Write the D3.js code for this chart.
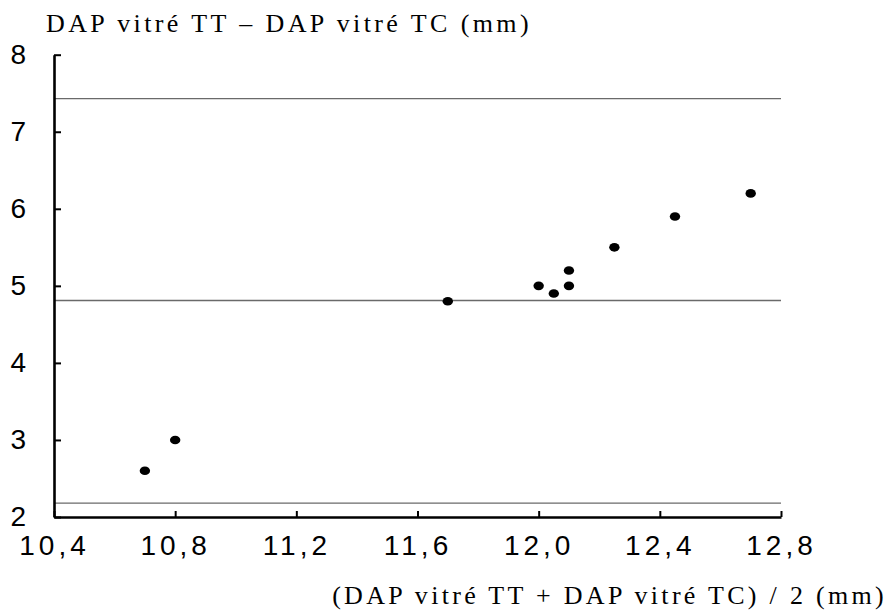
<!DOCTYPE html>
<html>
<head>
<meta charset="utf-8">
<script src="https://cdn.jsdelivr.net/npm/d3@7"></script>
<style>
    body { margin: 0; background: #fff; }
    svg { display: block; }
</style>
</head>
<body>
<div id="chart"></div>
<script>
// Bland-Altman style data
const meanValues = [10.7, 10.8, 11.7, 12.0, 12.05, 12.1, 12.1, 12.25, 12.45, 12.7];
const diffValues = [2.6, 3.0, 4.8, 5.0, 4.9, 5.2, 5.0, 5.5, 5.9, 6.2];
const refLines = [7.43, 4.81, 2.18];   // upper limit, mean, lower limit
const xTicks = [10.4, 10.8, 11.2, 11.6, 12.0, 12.4, 12.8];
const yTicks = [2, 3, 4, 5, 6, 7, 8];
const yTitle = 'DAP vitré TT – DAP vitré TC (mm)';
const xTitle = '(DAP vitré TT + DAP vitré TC) / 2 (mm)';

const width = 890, height = 611;
const margin = {top: 54.7, right: 109, bottom: 94, left: 54};

const svg = d3.select('#chart')
    .append('svg')
    .attr('width', width)
    .attr('height', height);

const x = d3.scaleLinear()
    .domain([10.4, 12.8])
    .range([margin.left, width - margin.right]);

const y = d3.scaleLinear()
    .domain([2, 8])
    .range([height - margin.bottom, margin.top]);

// Reference lines
svg.append('g')
    .selectAll('line')
    .data(refLines)
    .enter()
    .append('line')
    .attr('x1', x(10.4))
    .attr('x2', x(12.8))
    .attr('y1', d => y(d))
    .attr('y2', d => y(d))
    .attr('stroke', '#6a6a6a')
    .attr('stroke-width', 1.4);

const fmt = d => d3.format('.1f')(d).replace('.', ',');

// X axis
svg.append('g')
    .attr('transform', `translate(0,${y(2)})`)
    .call(d3.axisBottom(x).tickValues(xTicks).tickFormat(fmt).tickSizeInner(-6).tickSizeOuter(0).tickPadding(18))
    .call(g => g.select('.domain').attr('stroke', '#000').attr('stroke-width', 2.6))
    .call(g => g.selectAll('.tick line').attr('stroke', '#000').attr('stroke-width', 2))
    .call(g => g.selectAll('text')
        .attr('font-family', '"Liberation Sans", Arial, sans-serif')
        .attr('font-size', '28px')
        .attr('letter-spacing', '4px')
        .attr('fill', '#000'));

// Y axis
svg.append('g')
    .attr('transform', `translate(${x(10.4)},0)`)
    .call(d3.axisLeft(y).tickValues(yTicks).tickFormat(d3.format('d')).tickSizeInner(-7).tickSizeOuter(0).tickPadding(28))
    .call(g => g.select('.domain').attr('stroke', '#000').attr('stroke-width', 2.6))
    .call(g => g.selectAll('.tick line').attr('stroke', '#000').attr('stroke-width', 2))
    .call(g => g.selectAll('text')
        .attr('font-family', '"Liberation Sans", Arial, sans-serif')
        .attr('font-size', '28px')
        .attr('fill', '#000'));

// Points
svg.append('g')
    .selectAll('ellipse')
    .data(meanValues.map((m, i) => ({m, d: diffValues[i]})))
    .enter()
    .append('ellipse')
    .attr('cx', d => x(d.m))
    .attr('cy', d => y(d.d))
    .attr('rx', 5.2)
    .attr('ry', 4.3)
    .attr('fill', '#000');

// Y title
svg.append('text')
    .attr('x', 46)
    .attr('y', 32)
    .attr('font-family', '"Liberation Serif", "Times New Roman", serif')
    .attr('font-size', '26px')
    .attr('letter-spacing', '3.4px')
    .attr('fill', '#000')
    .text(yTitle);

// X title
svg.append('text')
    .attr('x', 887)
    .attr('y', 604)
    .attr('text-anchor', 'end')
    .attr('font-family', '"Liberation Serif", "Times New Roman", serif')
    .attr('font-size', '26px')
    .attr('letter-spacing', '3.3px')
    .attr('fill', '#000')
    .text(xTitle);
</script>
</body>
</html>
